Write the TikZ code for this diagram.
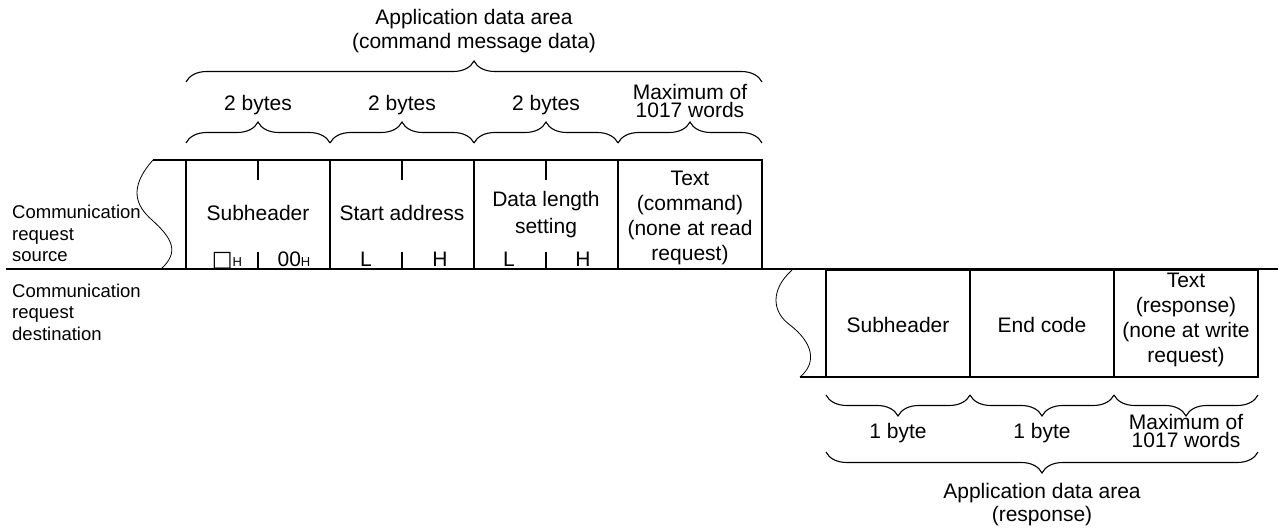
\documentclass[tikz,border=0pt]{standalone}
\usepackage{fontspec}
\setmainfont{Liberation Sans}
\newfontfamily\symfont{DejaVu Sans}
\usetikzlibrary{decorations.pathreplacing}
\begin{document}
\begin{tikzpicture}[x=1pt,y=-1pt,
  lbl/.style={font=\fontsize{21}{24}\selectfont, align=center, inner sep=0pt},
  lbll/.style={font=\fontsize{18.5}{21.5}\selectfont, align=left, inner sep=0pt, anchor=west},
  cell/.style={draw, line width=1.5pt, minimum width=144pt, inner sep=0pt, outer sep=0pt},
  rowline/.style={line width=1.5pt},
  tick/.style={line width=1.5pt},
  wave/.style={line width=0.8pt},
  brc/.style={decorate, decoration={brace, amplitude=21pt}, line width=1.1pt},
  brcm/.style={decorate, decoration={brace, mirror, amplitude=21pt}, line width=1.1pt}]
\useasboundingbox (0,0) rectangle (1278,529);

% ---------- request (command) ----------
\node[cell, minimum height=109pt] (c1) at (258,214.5) {};
\node[cell, minimum height=109pt] (c2) at (402,214.5) {};
\node[cell, minimum height=109pt] (c3) at (546,214.5) {};
\node[cell, minimum height=109pt] (c4) at (690,214.5) {};

\coordinate (w1t) at (153,160);
\coordinate (w1b) at (161,269);
\coordinate (l1) at (6,269);
\coordinate (r1) at (1278,269);
\draw[rowline] (w1t) -- (c1.north west);
\draw[rowline] (l1) -- (r1);
\draw[wave] (w1t) .. controls (128,188) and (136,206) .. (152,220)
                  .. controls (172,238) and (180,252) .. (w1b);

\foreach \c in {c1,c2,c3}{
  \draw[tick] (\c.north) -- ++(0,20);
  \draw[tick] (\c.south) -- ++(0,-17);
}

\node[lbl] (t1) at (258,213) {Subheader};
\node[lbl] (t2) at (402,213) {Start address};
\node[lbl, font=\fontsize{21}{27}\selectfont] (t3) at (546,215) {Data length\\setting};
\node[lbl, font=\fontsize{21}{25}\selectfont] (t4) at (690,217.5) {Text\\(command)\\(none at read\\request)};

\node[lbl, anchor=base] (b1) at (227,267) {{\symfont\fontsize{22}{22}\selectfont □}{\fontsize{13}{13}\selectfont H}};
\node[lbl, anchor=base] (b2) at (294,267) {00{\fontsize{13}{13}\selectfont H}};
\node[lbl, anchor=base] (b3) at (366,267) {L};
\node[lbl, anchor=base] (b4) at (440,267) {H};
\node[lbl, anchor=base] (b5) at (509,267) {L};
\node[lbl, anchor=base] (b6) at (583,267) {H};

\node[lbll] (src) at (12,233.5) {Communication\\request\\source};

% braces above
\draw[brc] (186,143) -- (330,143);
\draw[brc] (330,143) -- (474,143);
\draw[brc] (474,143) -- (618,143);
\draw[brc] (618,143) -- (762,143);
\draw[brc] (186,82) -- (762,82);

\node[lbl] (by1) at (258,105) {2 bytes};
\node[lbl] (by2) at (402,105) {2 bytes};
\node[lbl] (by3) at (546,105) {2 bytes};
\node[lbl, font=\fontsize{21}{18.5}\selectfont] (mx1) at (690,101) {Maximum of\\1017 words};
\node[lbl, font=\fontsize{21}{24}\selectfont] (app1) at (474,31) {Application data area\\(command message data)};

% ---------- response ----------
\node[cell, minimum height=107pt] (d1) at (898,323.5) {};
\node[cell, minimum height=107pt] (d2) at (1042,323.5) {};
\node[cell, minimum height=107pt] (d3) at (1186,323.5) {};

\coordinate (w2t) at (792,270);
\coordinate (w2b) at (800,377);
\draw[rowline] (w2b) -- (d1.south west);
\draw[wave] (w2t) .. controls (770,290) and (772,312) .. (790,325)
                  .. controls (812,342) and (818,362) .. (w2b);

\node[lbl] (e1) at (898,325) {Subheader};
\node[lbl] (e2) at (1042,325) {End code};
\node[lbl, font=\fontsize{21}{25}\selectfont] (e3) at (1186,320) {Text\\(response)\\(none at write\\request)};

\node[lbll] (dst) at (12,312) {Communication\\request\\destination};

\draw[brcm] (826,395) -- (970,395);
\draw[brcm] (970,395) -- (1114,395);
\draw[brcm] (1114,395) -- (1258,395);
\draw[brcm] (826,452) -- (1258,452);

\node[lbl] (o1) at (898,433) {1 byte};
\node[lbl] (o2) at (1042,433) {1 byte};
\node[lbl, font=\fontsize{21}{18.5}\selectfont] (mx2) at (1186,431) {Maximum of\\1017 words};
\node[lbl, font=\fontsize{21}{23}\selectfont] (app2) at (1042,505) {Application data area\\(response)};
\end{tikzpicture}
\end{document}
